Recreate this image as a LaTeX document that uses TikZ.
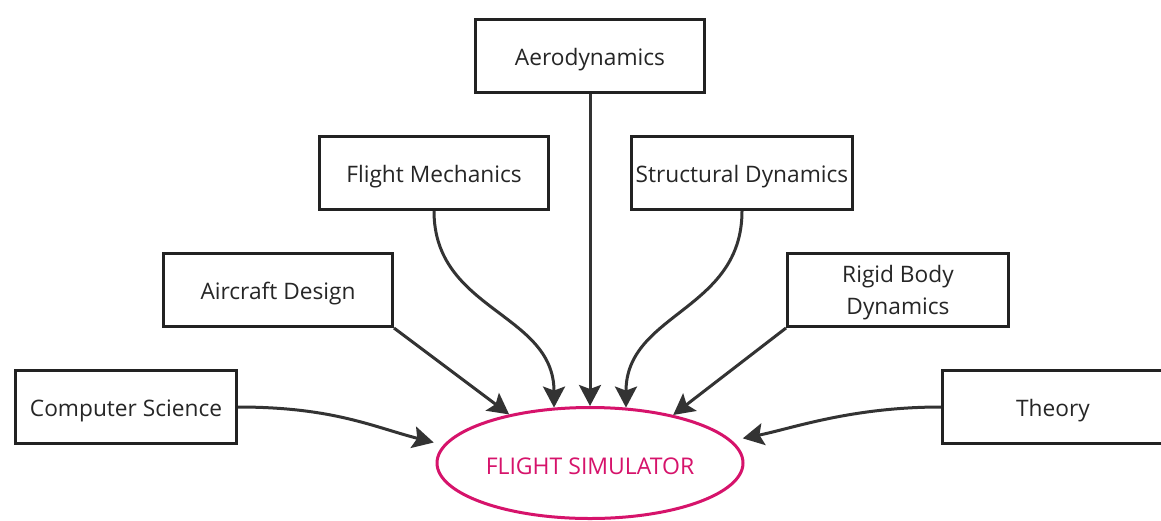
\documentclass[tikz,border=0pt]{standalone}
\usepackage{fontspec}
\setmainfont{Open Sans}
\usetikzlibrary{arrows.meta,shapes.geometric}
\definecolor{edgegray}{HTML}{333333}
\definecolor{boxline}{HTML}{222222}
\definecolor{simred}{HTML}{D6136B}
\tikzset{
  topic/.style={draw=boxline, line width=3pt, fill=white, minimum height=73pt,
    inner sep=2pt, align=center, text=black!85,
    font=\fontsize{22.7}{32}\selectfont},
  oneline/.style={text height=18pt, text depth=0pt},
  inner text/.style={align=center, text=black!85, yshift=-3pt,
    font=\fontsize{22.7}{32}\selectfont},
  goal/.style={ellipse, draw=simred, line width=3pt, minimum width=306pt,
    minimum height=111pt, text=simred, text height=22pt, text depth=0pt,
    font=\fontsize{23}{28}\selectfont},
  feed/.style={draw=edgegray, line width=3pt,
    -{Stealth[length=21pt,width=22pt,inset=4pt]}}
}
\begin{document}
\begin{tikzpicture}[x=1pt,y=-1pt]
  \useasboundingbox[fill=white] (0,0) rectangle (1161,520);
  % subject boxes
  \node[topic, oneline, minimum width=229pt] (aero) at (590,56) {Aerodynamics};
  \node[topic, oneline, minimum width=229pt] (fm)   at (434,173) {Flight Mechanics};
  \node[topic, oneline, minimum width=221pt] (sd)   at (742,173) {Structural Dynamics};
  \node[topic, oneline, minimum width=229pt] (ad)   at (278,290) {Aircraft Design};
  \node[topic, minimum width=221pt,
    label={[inner text]center:Rigid Body\\Dynamics}] (rbd) at (898,290) {};
  \node[topic, oneline, minimum width=221pt] (cs)   at (126,407) {Computer Science};
  \node[topic, oneline, minimum width=221pt] (th)   at (1053,407) {Theory};
  % central goal
  \node[goal] (sim) at (590,463) {FLIGHT SIMULATOR};
  % connectors
  \draw[feed] (aero.south) -- (sim.north);
  \draw[feed] (fm.south) .. controls +(0,100) and +(0,-95) .. (sim.123);
  \draw[feed] (sd.south) .. controls +(0,100) and +(0,-95) .. (sim.57);
  \draw[feed] (ad.south east) -- (sim.149);
  \draw[feed] (rbd.south west) -- (sim.30);
  \draw[feed, shorten >=10pt] (cs.east) .. controls +(95,0) and +(-70,-18) .. (sim.173);
  \draw[feed, shorten >=11pt] (th.west) .. controls +(-90,0) and +(60,-12) .. (sim.9);
\end{tikzpicture}
\end{document}
